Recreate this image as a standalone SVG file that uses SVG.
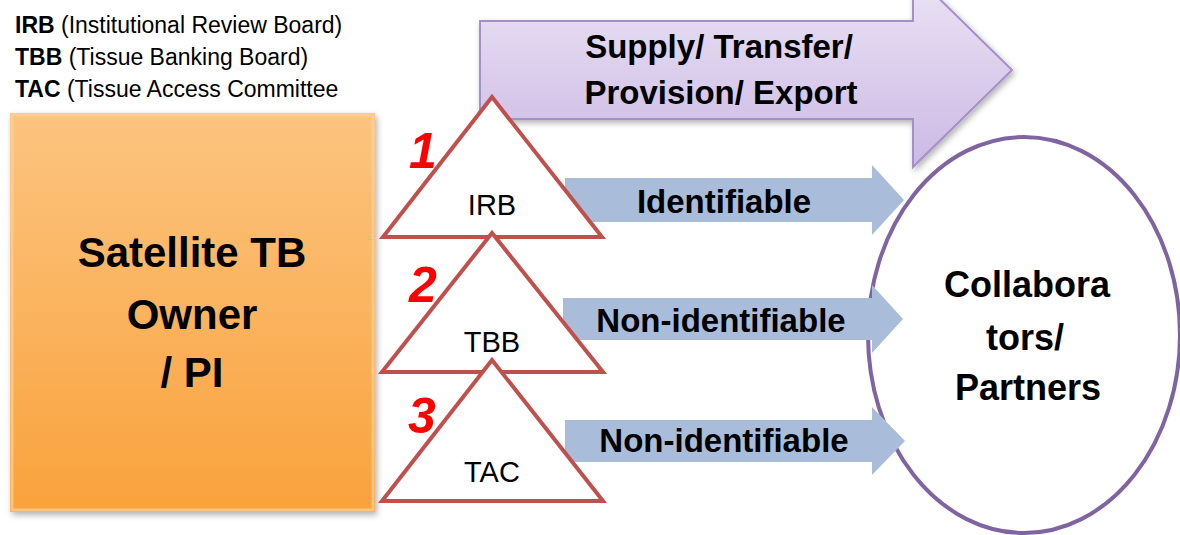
<svg xmlns="http://www.w3.org/2000/svg" width="1180" height="535" viewBox="0 0 1180 535">
  <defs>
    <linearGradient id="gOrange" x1="0" y1="0" x2="0" y2="1">
      <stop offset="0" stop-color="#fcc480"/>
      <stop offset="1" stop-color="#f9a23c"/>
    </linearGradient>
    <linearGradient id="gPurple" x1="0" y1="0" x2="0" y2="1">
      <stop offset="0" stop-color="#ece4f5"/>
      <stop offset="1" stop-color="#cbb9e4"/>
    </linearGradient>
    <filter id="shadow" x="-10%" y="-10%" width="120%" height="120%">
      <feDropShadow dx="2" dy="3" stdDeviation="3" flood-color="#000" flood-opacity="0.3"/>
    </filter>
    <style>
      .t { font-family: "Liberation Sans", Arial, sans-serif; fill: #000; }
      .b { font-weight: bold; }
      .tri { fill: #fff; stroke: #c0504d; stroke-width: 4; stroke-linejoin: miter; }
      .blue { fill: #a9bcda; }
      .num { font-family: "Liberation Sans", Arial, sans-serif; font-weight: bold; font-style: italic; fill: #ff0000; font-size: 50px; text-anchor: middle; }
      .lab { font-size: 29px; text-anchor: middle; }
      .arr { font-size: 33px; font-weight: bold; text-anchor: middle; }
    </style>
  </defs>
  <rect width="1180" height="535" fill="#fff"/>

  <g id="legend" class="t" font-size="23">
    <text x="15" y="33"><tspan class="b">IRB</tspan> (Institutional Review Board)</text>
    <text x="15" y="65"><tspan class="b">TBB</tspan> (Tissue Banking Board)</text>
    <text x="15" y="97"><tspan class="b">TAC</tspan> (Tissue Access Committee</text>
  </g>

  <g id="owner">
    <rect x="10" y="113" width="365" height="399" fill="url(#gOrange)" filter="url(#shadow)"/>
    <rect x="12" y="115" width="361" height="395" fill="none" stroke="#fdd39f" stroke-width="3" opacity="0.7"/>
    <g class="t b" font-size="42" text-anchor="middle">
      <text x="192" y="267">Satellite TB</text>
      <text x="192" y="329">Owner</text>
      <text x="192" y="387">/ PI</text>
    </g>
  </g>

  <g id="supply">
    <path d="M480,21 H913 V-27 L1012,70 L913,167 V119 H480 Z" fill="url(#gPurple)" stroke="#a48fcb" stroke-width="2" filter="url(#shadow)"/>
    <g class="t b" font-size="33" text-anchor="middle">
      <text x="719" y="58">Supply/ Transfer/</text>
      <text x="721" y="104">Provision/ Export</text>
    </g>
  </g>

  <g id="collaborators">
    <ellipse cx="1024" cy="335" rx="156" ry="198" fill="#fff" stroke="#8064a2" stroke-width="4"/>
    <g class="t b" font-size="36" text-anchor="middle">
      <text x="1027" y="297">Collabora</text>
      <text x="1025" y="350">tors/</text>
      <text x="1028" y="400">Partners</text>
    </g>
  </g>

  <g id="connectors">
    <path class="blue" d="M565,178 H872 V165 L904,200 L872,235 V222 H565 Z"/>
    <path class="blue" d="M563,298 H872 V285 L903,319 L872,353 V340 H563 Z"/>
    <path class="blue" d="M565,420 H872 V407 L905,441 L872,475 V462 H565 Z"/>
    <text class="t arr" x="724" y="213">Identifiable</text>
    <text class="t arr" x="721" y="332">Non-identifiable</text>
    <text class="t arr" x="724" y="452">Non-identifiable</text>
  </g>

  <g id="irb">
    <polygon class="tri" points="492,97 383,237 602,237"/>
    <text class="t lab" x="492" y="215">IRB</text>
    <text class="num" x="423" y="168">1</text>
  </g>
  <g id="tbb">
    <polygon class="tri" points="492,233 382,372 603,372"/>
    <text class="t lab" x="492" y="352">TBB</text>
    <text class="num" x="423" y="302">2</text>
  </g>
  <g id="tac">
    <polygon class="tri" points="492,360 382,501 603,501"/>
    <text class="t lab" x="492" y="482">TAC</text>
    <text class="num" x="422" y="433">3</text>
  </g>
</svg>
